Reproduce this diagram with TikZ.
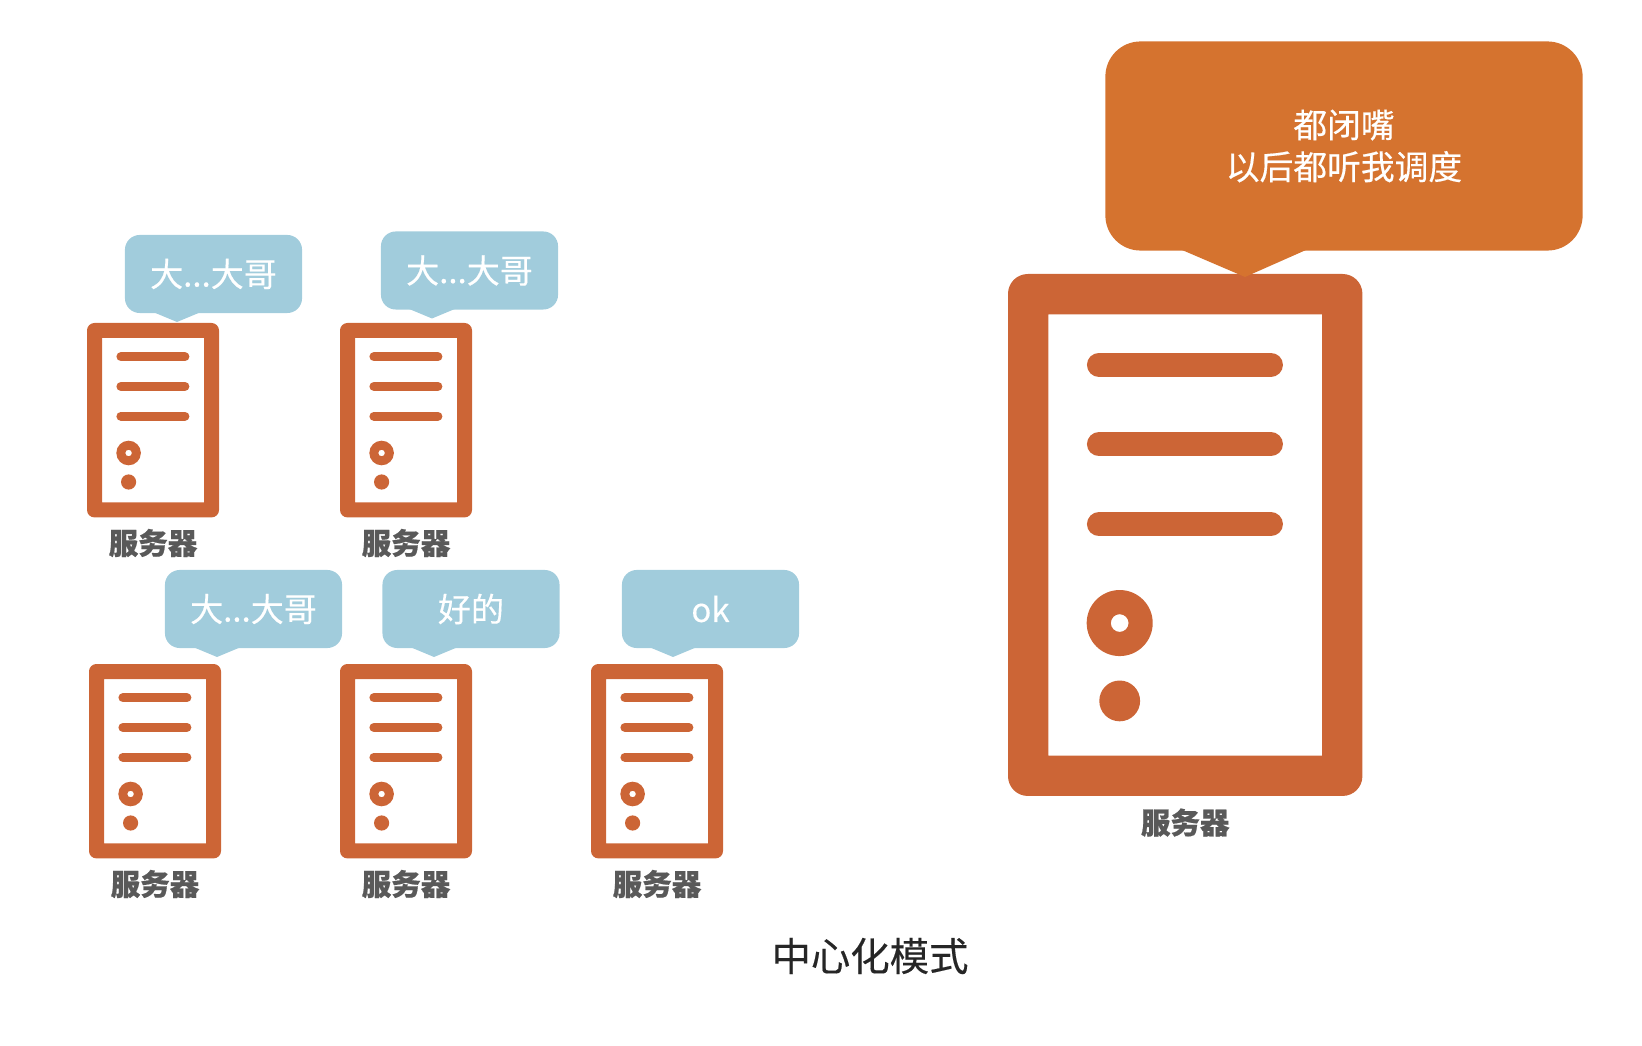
\documentclass[tikz,border=0pt]{standalone}
\usepackage{fontspec}
\setmainfont{Noto Sans CJK SC}[BoldFeatures={FakeBold=0.6}]
\newfontfamily\talkfont{Noto Sans CJK SC}[FakeBold=0.35]
\definecolor{srvred}{HTML}{CC6536}
\definecolor{bigorange}{HTML}{D5732F}
\definecolor{talkblue}{HTML}{A1CCDC}
\definecolor{labelgray}{HTML}{595959}
\definecolor{titlegray}{HTML}{262626}
\tikzset{
	talk/.style={fill=talkblue,rounded corners=4.2pt,minimum width=1.77cm,minimum height=0.78cm,inner sep=0pt,text=white,font=\talkfont\fontsize{9.4}{10}\selectfont},
	srvlabel/.style={text=labelgray,font=\fontsize{8.4}{10}\selectfont\bfseries,inner sep=0pt},
}

\begin{document}
\begin{tikzpicture}[x=0.01cm,y=-0.01cm]
\useasboundingbox (0,0) rectangle (1642,1046);
\def\dage{大...大哥}
\foreach \i/\x/\y/\h in {a/87/323/1,b/340/323/1,c/89/664/1,d/340/664/1,e/591/664/1,f/1008/274/2.685}{
	\fill[color=srvred,even odd rule,rounded corners={\h*2.1pt}]
		(\x,\y) rectangle ({\x+132*\h},{\y+194.4*\h})
		[sharp corners] ({\x+15*\h},{\y+15*\h}) rectangle ({\x+117*\h},{\y+179.4*\h});
	\foreach \l in {33.8,63.4,93.2}{
		\draw[color=srvred,line cap=round,line width={\h*2.56pt}]
			({\x+33.9*\h},{\y+\l*\h}) -- ({\x+97.9*\h},{\y+\l*\h});
	}
	\fill[color=srvred,even odd rule]
		({\x+41.6*\h},{\y+130*\h}) circle[radius={12.3*\h}]
		({\x+41.6*\h},{\y+130*\h}) circle[radius={3.3*\h}];
	\fill[color=srvred] ({\x+41.6*\h},{\y+159*\h}) circle[radius={7.6*\h}];
	\node[srvlabel] (label\i) at ({\x+66*\h},{\y+194*\h+25+\h}) {服务器};
}
% small speech bubbles
\foreach \i/\x/\y/\t/\txt in {a/213.5/274/177/\dage,b/469.5/270.5/432/\dage,c/253.5/609/217/\dage,d/471/609/434/好的,e/710.5/609/673/ok}{
	\node[talk] (talk\i) at (\x,\y) {\txt};
	\fill[color=talkblue] ({\t-24},{\y+38}) -- (\t,{\y+48}) -- ({\t+24},{\y+38}) -- cycle;
}
% the big one
\node[fill=bigorange,rounded corners=10pt,minimum width=4.77cm,minimum height=2.09cm,inner sep=0pt,text=white,align=center,font=\talkfont\fontsize{9.6}{11.9}\selectfont] (order) at (1344,146) {都闭嘴\\以后都听我调度};
\fill[color=bigorange] (1182,250) -- (1245,277) -- (1306,250) -- cycle;
\node[text=titlegray,inner sep=0pt,font=\talkfont\fontsize{11.2}{14}\selectfont] (title) at (870,956) {中心化模式};
\end{tikzpicture}
\end{document}
